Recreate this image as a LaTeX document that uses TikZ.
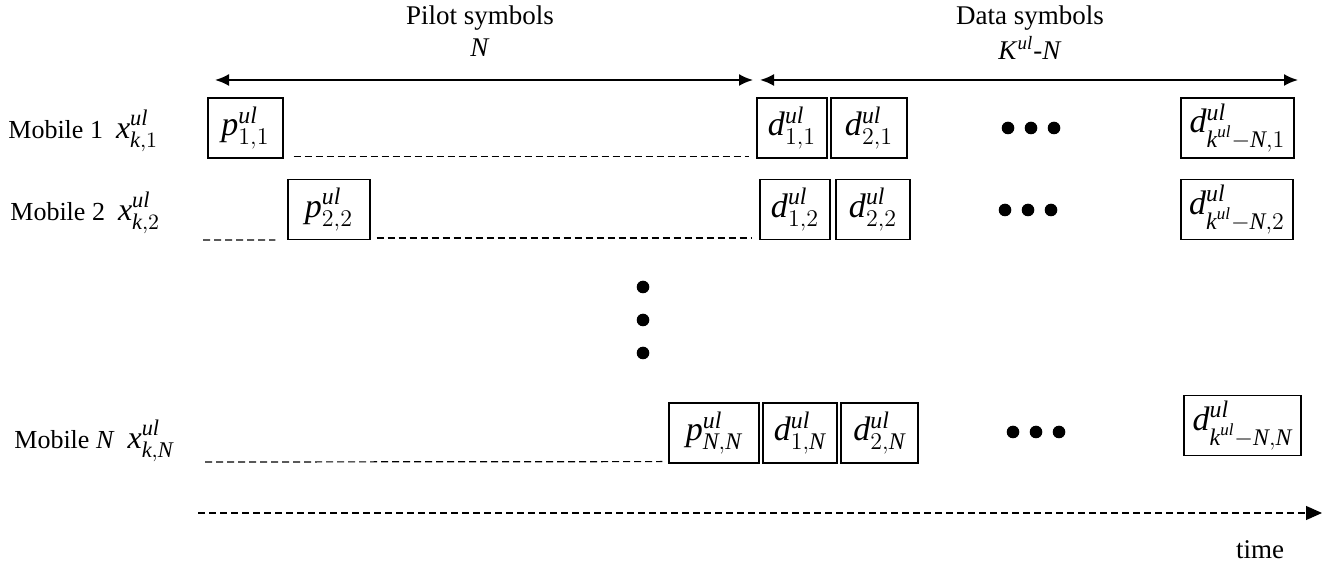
\documentclass[tikz,border=0pt]{standalone}
\usepackage{fontspec}
\setmainfont{Liberation Serif}
\usepackage{amsmath}
\usetikzlibrary{arrows.meta}
\newcommand{\ulsym}[2]{\textit{#1}$^{\textit{ul}}_{#2}$}
\newcommand{\kN}{\textit{k}^{\textit{ul}}-\textit{N}}
\newcommand{\xsym}[1]{{\fontsize{16}{18}\selectfont\textit{x}$^{\textit{ul}}_{\textit{k},#1}$}}
\begin{document}
\begin{tikzpicture}[x=0.5pt,y=-0.5pt,
  symbox/.style={draw, line width=0.6pt, inner sep=0pt, minimum height=30pt, font=\fontsize{17}{19}\selectfont},
  lbl/.style={anchor=west, font=\fontsize{13}{15}\selectfont, inner sep=0pt},
  hdr/.style={font=\fontsize{13.5}{16}\selectfont, inner sep=0pt},
  dashln/.style={line width=0.6pt, dash pattern=on 3.5pt off 2pt},
  dot/.style={circle, fill=black, inner sep=0pt, minimum size=6.3pt}]
\useasboundingbox (0,0) rectangle (1340,566);
% headers
\node[hdr] (pilot) at (480,18) {Pilot symbols};
\node[hdr] (pilotN) at (480,48) {\textit{N}};
\node[hdr] (data) at (1030,18) {Data symbols};
\node[hdr] (dataN) at (1030,48) {\textit{K}$^{\textit{ul}}$-\textit{N}};
\coordinate (a1l) at (215,80);
\coordinate (a1r) at (753,80);
\coordinate (a2l) at (760,80);
\coordinate (a2r) at (1298,80);
\draw[line width=1pt, {Latex[length=7pt,width=6pt]}-{Latex[length=7pt,width=6pt]}] (a1l) -- (a1r);
\draw[line width=1pt, {Latex[length=7pt,width=6pt]}-{Latex[length=7pt,width=6pt]}] (a2l) -- (a2r);
% row 1
\node[lbl] (m1) at (8,131) {Mobile 1 \ \xsym{1}};
\node[symbox, minimum width=37.5pt] (p11) at (245.5,128) {\ulsym{p}{1,1}};
\node[symbox, minimum width=35pt] (d11) at (792,128) {\ulsym{d}{1,1}};
\node[symbox, minimum width=38pt] (d21) at (869,128) {\ulsym{d}{2,1}};
\node[symbox, minimum width=56.5pt] (dl1) at (1237.5,128) {\ulsym{d}{\kN,1}};
\node[dot] (r1a) at (1008,128) {};
\node[dot] (r1b) at (1031,128) {};
\node[dot] (r1c) at (1054,128) {};
\draw[dashln] ([xshift=5pt,yshift=1pt]p11.south east) -- ([xshift=-3.5pt,yshift=1pt]d11.south west);
% row 2
\node[lbl] (m2) at (10,213) {Mobile 2 \ \xsym{2}};
\node[symbox, minimum width=41pt] (p22) at (329,209.5) {\ulsym{p}{2,2}};
\node[symbox, minimum width=35pt] (d12) at (795,209.5) {\ulsym{d}{1,2}};
\node[symbox, minimum width=37pt] (d22) at (873,209.5) {\ulsym{d}{2,2}};
\node[symbox, minimum width=56pt] (dl2) at (1237,209.5) {\ulsym{d}{\kN,2}};
\node[dot] (r2a) at (1005,210) {};
\node[dot] (r2b) at (1028,210) {};
\node[dot] (r2c) at (1051,210) {};
\coordinate (s2) at (203,240);
\draw[dashln] (s2) -- ([xshift=-6pt]p22.south west);
\draw[dashln] ([xshift=3pt,yshift=1pt]p22.south east) -- ([xshift=-3.5pt,yshift=1pt]d12.south west);
% vertical dots
\node[dot] (v1) at (643,287) {};
\node[dot] (v2) at (643,320) {};
\node[dot] (v3) at (643,353) {};
% row N
\node[lbl] (mN) at (14,441) {Mobile \textit{N} \ \xsym{\textit{N}}};
\node[symbox, minimum width=45pt] (pNN) at (714,433) {\ulsym{p}{\textit{N},\textit{N}}};
\node[symbox, minimum width=37pt] (d1N) at (800,433) {\ulsym{d}{1,\textit{N}}};
\node[symbox, minimum width=38.5pt] (d2N) at (879.5,433) {\ulsym{d}{2,\textit{N}}};
\node[symbox, minimum width=58.5pt] (dlN) at (1242.5,425.5) {\ulsym{d}{\kN,\textit{N}}};
\node[dot] (rNa) at (1013,432) {};
\node[dot] (rNb) at (1036,432) {};
\node[dot] (rNc) at (1059,432) {};
\coordinate (sN) at (205,462);
\draw[dashln] (sN) -- ([xshift=-3pt,yshift=1pt]pNN.south west);
% time axis
\coordinate (t0) at (198,513);
\coordinate (t1) at (1322,513);
\draw[dashln, -{Triangle[length=8pt,width=7pt]}] (t0) -- (t1);
\node[hdr] (time) at (1260,550) {time};
\end{tikzpicture}
\end{document}
